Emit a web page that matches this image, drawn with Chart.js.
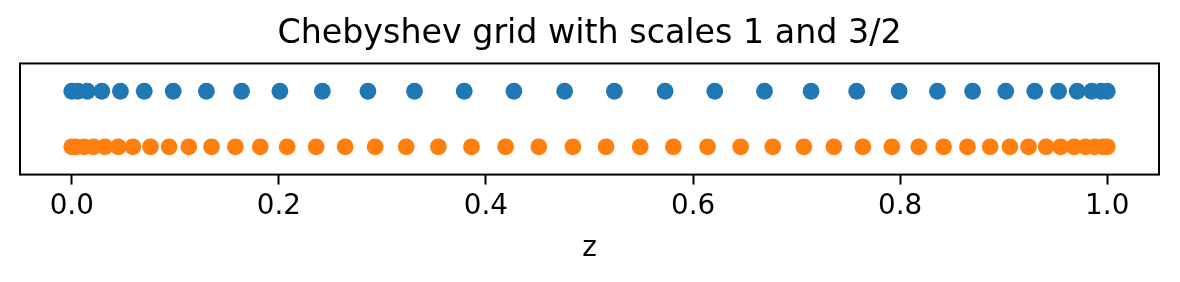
<!DOCTYPE html>
<html>
<head>
<meta charset="utf-8">
<script src="https://cdn.jsdelivr.net/npm/chart.js@4/dist/chart.umd.min.js"></script>
<style>
html,body{margin:0;padding:0;background:#fff;}
#wrap{width:1180px;height:282px;}
</style>
</head>
<body>
<div id="wrap"><canvas id="c" width="1180" height="282"></canvas></div>
<script>
// Data
const chartTitle = "Chebyshev grid with scales 1 and 3/2";
const xLabel = "z";
const xTicks = [0.0, 0.2, 0.4, 0.6, 0.8, 1.0];

// scale 1 grid (blue row)
const gridScale1 = [
  0.000, 0.006, 0.015, 0.029, 0.047, 0.070, 0.098, 0.130, 0.164, 0.201,
  0.242, 0.286, 0.331, 0.379, 0.427, 0.476,
  0.524, 0.573, 0.621, 0.669, 0.714, 0.758, 0.799, 0.836, 0.870, 0.902,
  0.930, 0.953, 0.971, 0.985, 0.994, 1.000
];
// scale 3/2 grid (orange row)
const gridScale32 = [
  0.000, 0.004, 0.012, 0.021, 0.032, 0.045, 0.059, 0.076, 0.094, 0.113,
  0.135, 0.158, 0.182, 0.208, 0.236, 0.264, 0.293, 0.323, 0.354, 0.386,
  0.419, 0.451, 0.484,
  0.516, 0.549, 0.581, 0.614, 0.646, 0.677, 0.707, 0.736, 0.764, 0.792,
  0.818, 0.842, 0.865, 0.887, 0.906, 0.924, 0.941, 0.955, 0.968, 0.979,
  0.988, 0.996, 1.000
];
const rowLevels = [0.5, -0.5];

const toPts = (arr, y) => arr.map(x => ({x: x, y: y}));

const framePlugin = {
  id: 'frame',
  afterDatasetsDraw(chart) {
    const {ctx, chartArea: a} = chart;
    ctx.save();
    ctx.strokeStyle = '#000';
    ctx.lineWidth = 2;
    ctx.strokeRect(a.left, a.top, a.right - a.left, a.bottom - a.top);
    ctx.restore();
  }
};

new Chart(document.getElementById('c'), {
  type: 'scatter',
  data: {
    datasets: [
      {data: toPts(gridScale1, rowLevels[0]), backgroundColor: '#1f77b4', borderWidth: 0, pointRadius: 8.4, pointHoverRadius: 8.4},
      {data: toPts(gridScale32, rowLevels[1]), backgroundColor: '#ff7f0e', borderWidth: 0, pointRadius: 8.4, pointHoverRadius: 8.4}
    ]
  },
  options: {
    responsive: false,
    animation: false,
    devicePixelRatio: 1,
    layout: {padding: {left: 20, right: 21, top: 0, bottom: 0}},
    plugins: {
      legend: {display: false},
      tooltip: {enabled: false},
      title: {
        display: true, text: chartTitle, color: '#000',
        font: {family: 'DejaVu Sans', size: 33.3, weight: 'normal'},
        padding: {top: 14, bottom: 9.5}
      }
    },
    scales: {
      x: {
        type: 'linear', min: -0.05, max: 1.05,
        afterBuildTicks: s => { s.ticks = xTicks.map(v => ({value: v})); },
        ticks: {
          color: '#000', padding: 5.5, maxRotation: 0, autoSkip: false,
          font: {family: 'DejaVu Sans', size: 27.8},
          callback: v => Number(v).toFixed(1)
        },
        grid: {display: true, drawOnChartArea: false, drawTicks: true, tickLength: 10, tickWidth: 2, tickColor: '#000'},
        border: {display: false},
        title: {
          display: true, text: xLabel, color: '#000',
          font: {family: 'DejaVu Sans', size: 27.8},
          padding: {top: 3.2, bottom: 16.5}
        }
      },
      y: {
        display: false, min: -1, max: 1
      }
    }
  },
  plugins: [framePlugin]
});
</script>
</body>
</html>
